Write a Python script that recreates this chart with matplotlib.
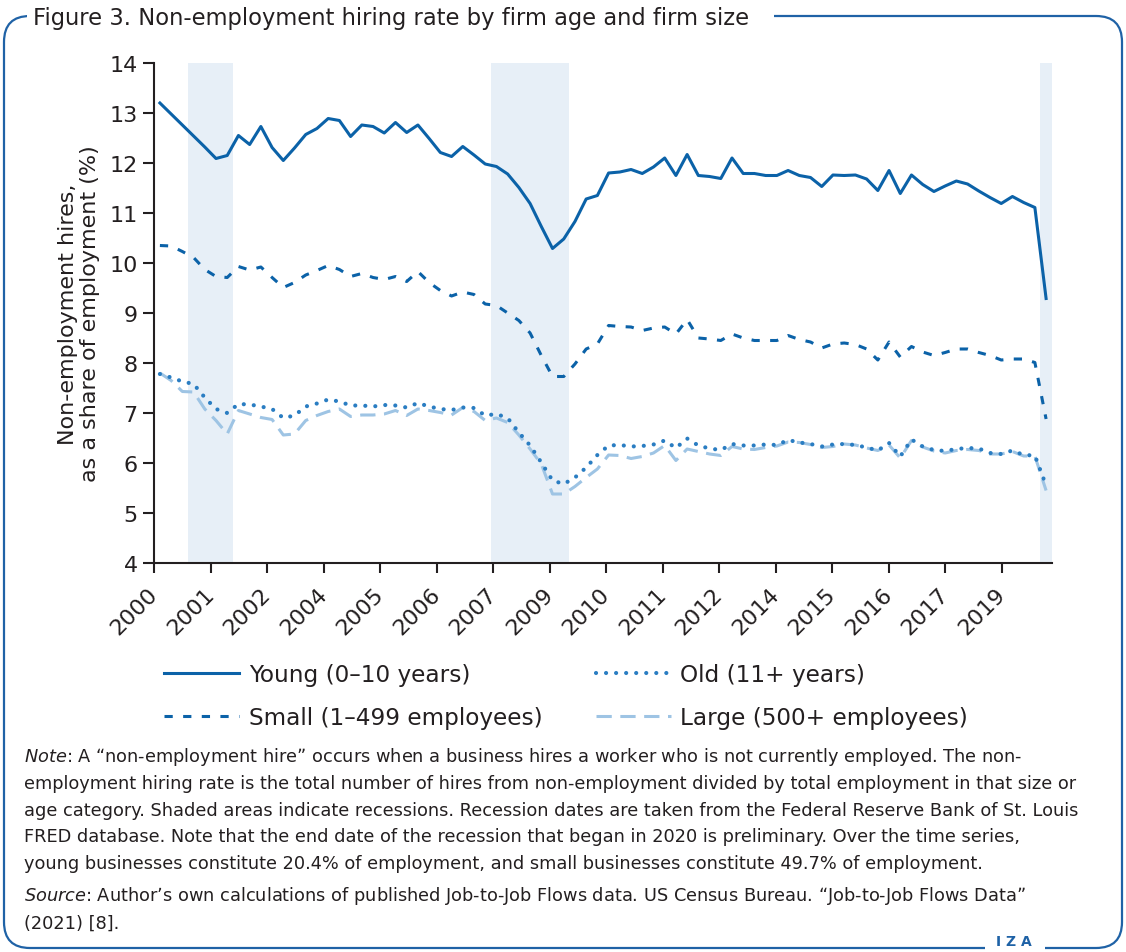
import numpy as np
import matplotlib
matplotlib.use('Agg')
import matplotlib.pyplot as plt
from matplotlib.patches import FancyBboxPatch, Rectangle

# quarterly data, 2000Q2 .. 2020Q1 (%)
young = [13.2, 12.98, 12.76, 12.54, 12.32, 12.09, 12.15, 12.55, 12.37, 12.73,
         12.31, 12.05, 12.3, 12.57, 12.69, 12.89, 12.85, 12.53, 12.76, 12.73,
         12.6, 12.81, 12.61, 12.76, 12.49, 12.21, 12.13, 12.33, 12.16, 11.98,
         11.93, 11.78, 11.51, 11.19, 10.73, 10.29, 10.48, 10.83, 11.28, 11.35,
         11.8, 11.82, 11.87, 11.79, 11.92, 12.1, 11.75, 12.17, 11.75, 11.73,
         11.69, 12.1, 11.79, 11.79, 11.75, 11.75, 11.85, 11.75, 11.71, 11.53,
         11.76, 11.75, 11.76, 11.68, 11.45, 11.85, 11.39, 11.76, 11.57, 11.43,
         11.54, 11.64, 11.58, 11.44, 11.31, 11.19, 11.33, 11.21, 11.11, 9.29]
old = [7.78, 7.71, 7.63, 7.58, 7.31, 7.08, 7.0, 7.18, 7.17, 7.13,
       7.08, 6.9, 6.95, 7.13, 7.19, 7.27, 7.23, 7.15, 7.15, 7.13,
       7.16, 7.15, 7.11, 7.2, 7.13, 7.08, 7.06, 7.11, 7.1, 6.95,
       6.98, 6.9, 6.61, 6.35, 6.01, 5.65, 5.58, 5.71, 5.91, 6.16,
       6.35, 6.36, 6.33, 6.34, 6.37, 6.45, 6.3, 6.49, 6.35, 6.29,
       6.26, 6.38, 6.35, 6.35, 6.37, 6.36, 6.46, 6.41, 6.38, 6.33,
       6.37, 6.38, 6.36, 6.31, 6.25, 6.4, 6.13, 6.47, 6.33, 6.26,
       6.24, 6.28, 6.3, 6.29, 6.2, 6.18, 6.25, 6.16, 6.15, 5.55]
small = [10.35, 10.34, 10.23, 10.11, 9.87, 9.73, 9.71, 9.93, 9.86, 9.92,
         9.71, 9.51, 9.61, 9.76, 9.85, 9.95, 9.87, 9.73, 9.79, 9.71,
         9.67, 9.73, 9.63, 9.83, 9.61, 9.45, 9.34, 9.42, 9.37, 9.18,
         9.15, 9.0, 8.85, 8.6, 8.15, 7.73, 7.73, 7.98, 8.28, 8.38,
         8.75, 8.73, 8.72, 8.65, 8.7, 8.72, 8.58, 8.87, 8.5, 8.48,
         8.45, 8.58, 8.5, 8.45, 8.45, 8.45, 8.55, 8.47, 8.42, 8.3,
         8.38, 8.4, 8.37, 8.28, 8.06, 8.42, 8.12, 8.33, 8.22, 8.15,
         8.21, 8.28, 8.28, 8.21, 8.15, 8.06, 8.08, 8.08, 8.01, 6.88]
large = [7.8, 7.65, 7.43, 7.42, 7.08, 6.85, 6.58, 7.05, 6.98, 6.91,
         6.87, 6.56, 6.58, 6.85, 6.95, 7.03, 7.08, 6.93, 6.96, 6.96,
         6.98, 7.05, 6.95, 7.08, 7.05, 7.01, 6.96, 7.11, 7.03, 6.85,
         6.9, 6.81, 6.56, 6.28, 5.98, 5.38, 5.38, 5.53, 5.71, 5.88,
         6.16, 6.15, 6.09, 6.13, 6.2, 6.35, 6.05, 6.28, 6.23, 6.18,
         6.15, 6.33, 6.28, 6.27, 6.31, 6.34, 6.42, 6.41, 6.37, 6.31,
         6.33, 6.38, 6.36, 6.3, 6.25, 6.36, 6.1, 6.45, 6.32, 6.24,
         6.2, 6.25, 6.27, 6.25, 6.18, 6.18, 6.23, 6.14, 6.14, 5.45]

tick_labels = ['2000', '2001', '2002', '2004', '2005', '2006', '2007', '2009',
               '2010', '2011', '2012', '2014', '2015', '2016', '2017', '2019']
# recessions as quarter index ranges
recessions = [(2.5, 6.5), (29.5, 36.5), (78.5, 79.5)]

note_lines = [
    "$\\it{Note}$: A \u201cnon-employment hire\u201d occurs when a business hires a worker who is not currently employed. The non-",
    "employment hiring rate is the total number of hires from non-employment divided by total employment in that size or",
    "age category. Shaded areas indicate recessions. Recession dates are taken from the Federal Reserve Bank of St. Louis",
    "FRED database. Note that the end date of the recession that began in 2020 is preliminary. Over the time series,",
    "young businesses constitute 20.4% of employment, and small businesses constitute 49.7% of employment.",
]
source_lines = [
    "$\\it{Source}$: Author\u2019s own calculations of published Job-to-Job Flows data. US Census Bureau. \u201cJob-to-Job Flows Data\u201d",
    "(2021) [8].",
]

dark = '#0b62a8'
mid = '#2a7dc2'
light = '#9ec4e4'
shade = '#e7eff7'
frame = '#1f62a6'
txt = '#231f20'

W, H = 1126, 953
fig = plt.figure(figsize=(W / 100, H / 100), dpi=100)

# background layer in pixel coordinates (frame, notes)
bg = fig.add_axes([0, 0, 1, 1], zorder=-1)
bg.set_xlim(0, W)
bg.set_ylim(H, 0)
bg.axis('off')
bg.add_patch(FancyBboxPatch((4, 17), W - 8, 932, boxstyle='round,pad=0,rounding_size=26',
                            fill=False, edgecolor=frame, linewidth=1.6))
bg.add_patch(Rectangle((27, 0), 747, 34, facecolor='white', edgecolor='none', zorder=3))
bg.add_patch(Rectangle((985, 930), 60, 23, facecolor='white', edgecolor='none', zorder=3))
bg.text(33, 18, 'Figure 3. Non-employment hiring rate by firm age and firm size',
        fontsize=16.3, color=txt, va='center', ha='left', zorder=4)
bg.text(1014, 942, 'I Z A', fontsize=10, color=frame, va='center', ha='center',
        fontweight='bold', zorder=4)

for k, line in enumerate(note_lines):
    bg.text(24, 757 + k * 26.8, line, fontsize=12.8, color=txt, va='center', ha='left')
for k, line in enumerate(source_lines):
    bg.text(24, 896 + k * 27.5, line, fontsize=12.8, color=txt, va='center', ha='left')

# main chart
ax = fig.add_axes([154.3 / W, 1 - 564 / H, (1051.7 - 154.3) / W, 500 / H])
x = np.arange(len(young))

for a, b in recessions:
    ax.axvspan(a, b, color=shade, lw=0, zorder=0)

ax.plot(x, young, color=dark, lw=2.2, label='Young (0\u201310 years)', zorder=3)
ax.plot(x, small, color=dark, lw=2.2, linestyle=(0, (2.7, 3.4)),
        label='Small (1\u2013499 employees)', zorder=3)
ax.plot(x, large, color=light, lw=2.2, linestyle=(0, (5, 2.8)),
        label='Large (500+ employees)', zorder=2)
ax.plot(x, old, color=mid, lw=3.0, linestyle=(0, (0.01, 2.4)), dash_capstyle='round',
        label='Old (11+ years)', zorder=3)

ax.set_xlim(-0.5, 79.5)
ax.set_ylim(4, 14)
ax.set_yticks(range(4, 15))
ax.set_xticks(-0.5 + 5.037 * np.arange(len(tick_labels)))
ax.set_xticklabels(tick_labels, rotation=45, ha='right', va='center', rotation_mode='anchor')
ax.tick_params(axis='y', length=8, width=1.5, labelsize=16, colors=txt, pad=4)
ax.tick_params(axis='x', length=7, width=1.5, labelsize=16, colors=txt, pad=13)
for s in ['top', 'right']:
    ax.spines[s].set_visible(False)
for s in ['left', 'bottom']:
    ax.spines[s].set_linewidth(1.5)
    ax.spines[s].set_color(txt)
ax.set_ylabel('Non-employment hires,\nas a share of employment (%)', fontsize=16,
              color=txt, labelpad=7, linespacing=1.1)

h, l = ax.get_legend_handles_labels()
order = [0, 1, 3, 2]
leg = fig.legend([h[i] for i in order], [l[i] for i in order], ncol=2, frameon=False,
                 loc='upper left', bbox_to_anchor=(164 / W, 1 - 664 / H),
                 fontsize=16.7, handlelength=3.25, handletextpad=0.4,
                 columnspacing=2.3, labelspacing=0.88, borderpad=0, borderaxespad=0)
for t in leg.get_texts():
    t.set_color(txt)

fig.savefig('out.png', dpi=100)
